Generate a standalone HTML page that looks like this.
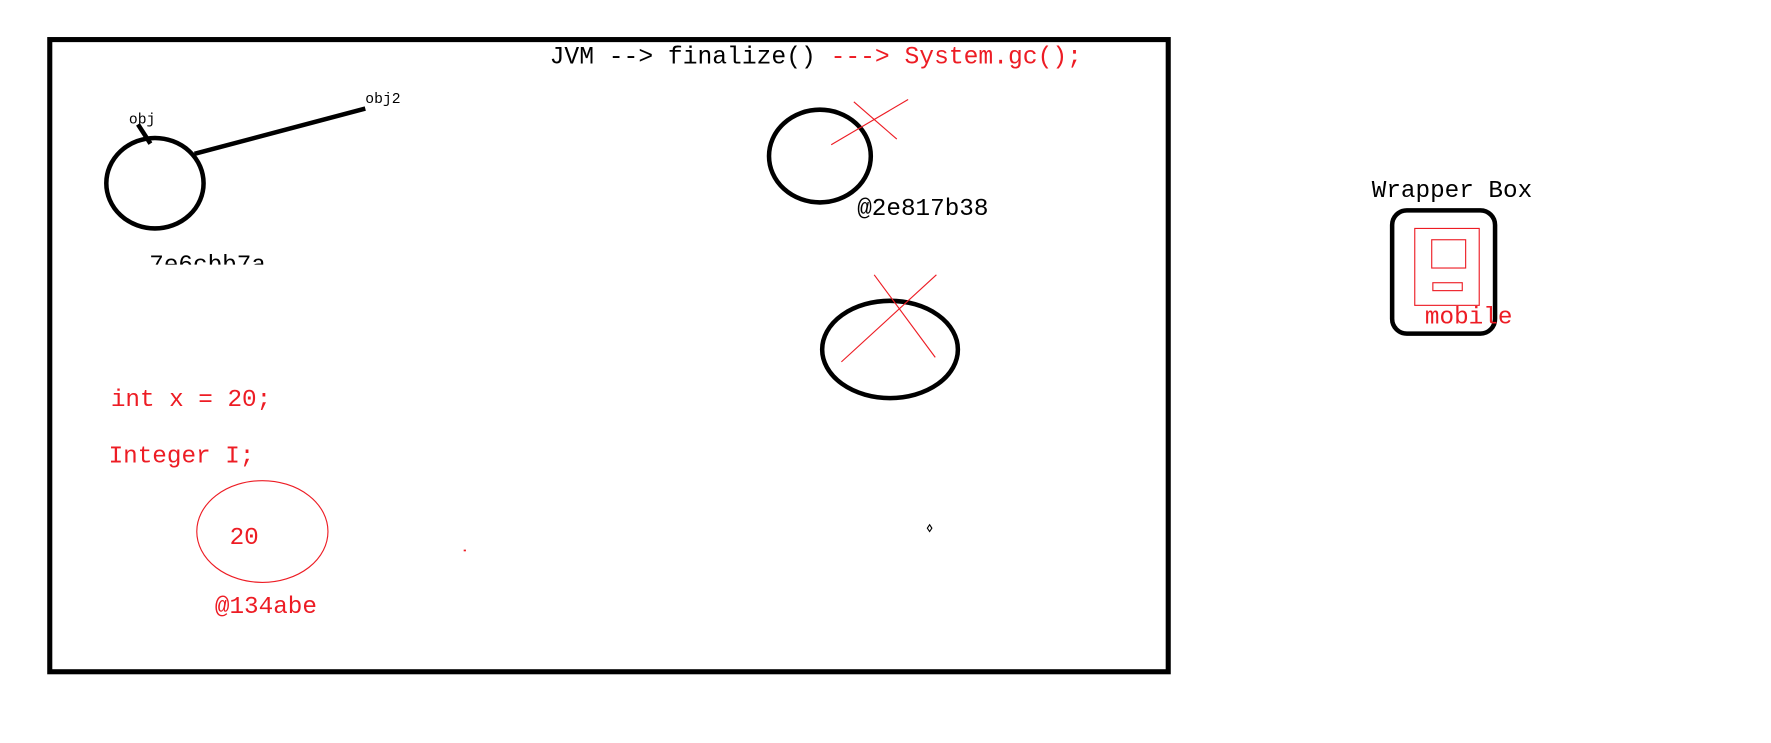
<!DOCTYPE html>
<html><head><meta charset="utf-8"><style>
html,body{margin:0;padding:0;background:#fff;width:1771px;height:743px;overflow:hidden}
text{font-family:"Liberation Mono","DejaVu Sans Mono",monospace}
</style></head><body>
<svg width="1771" height="743" viewBox="0 0 1566 657" xmlns="http://www.w3.org/2000/svg">
<defs><clipPath id="c1"><rect x="0" y="0" width="1560" height="234"/></clipPath></defs>
<rect x="44" y="35" width="989" height="559" fill="none" stroke="#000" stroke-width="4.5"/>
<text x="486" y="56" font-size="21.8" fill="#000">JVM --&gt; finalize() <tspan fill="#ed1c24">---&gt; System.gc();</tspan></text>
<ellipse cx="137" cy="162" rx="43" ry="40" fill="none" stroke="#000" stroke-width="4"/>
<line x1="122" y1="110" x2="133" y2="127" stroke="#000" stroke-width="4"/>
<line x1="172" y1="136" x2="323" y2="96" stroke="#000" stroke-width="4"/>
<text x="114" y="109" font-size="13">obj</text>
<text x="323" y="91" font-size="13">obj2</text>
<text x="132" y="240" font-size="21.5" clip-path="url(#c1)">7e6cbb7a</text>
<ellipse cx="725" cy="138" rx="45" ry="41" fill="none" stroke="#000" stroke-width="4"/>
<line x1="735" y1="128" x2="803" y2="88" stroke="#ed1c24" stroke-width="1"/>
<line x1="755" y1="90" x2="793" y2="123" stroke="#ed1c24" stroke-width="1"/>
<text x="758" y="190" font-size="21.5">@2e817b38</text>
<ellipse cx="787" cy="309" rx="60" ry="43" fill="none" stroke="#000" stroke-width="4"/>
<line x1="744" y1="320" x2="828" y2="243" stroke="#ed1c24" stroke-width="1"/>
<line x1="773" y1="243" x2="827" y2="316" stroke="#ed1c24" stroke-width="1"/>
<text x="98" y="359" font-size="21.5" fill="#ed1c24">int x = 20;</text>
<text x="96" y="409" font-size="21.5" fill="#ed1c24">Integer I;</text>
<ellipse cx="232" cy="470" rx="58" ry="45" fill="none" stroke="#ed1c24" stroke-width="1"/>
<text x="203" y="481" font-size="21.5" fill="#ed1c24">20</text>
<text x="190" y="542" font-size="21.5" fill="#ed1c24">@134abe</text>
<rect x="410" y="486" width="2" height="1.5" fill="#ed1c24"/>
<path d="M822 464 L824 467 L822 470 L820 467 Z" fill="none" stroke="#000" stroke-width="1"/>
<text x="1213" y="174" font-size="21.5">Wrapper Box</text>
<rect x="1231" y="186" width="91" height="109" rx="13" fill="none" stroke="#000" stroke-width="4"/>
<rect x="1251" y="202" width="57" height="68" fill="none" stroke="#ed1c24" stroke-width="1"/>
<rect x="1266" y="212" width="30" height="25" fill="none" stroke="#ed1c24" stroke-width="1"/>
<rect x="1267" y="250" width="26" height="7" fill="none" stroke="#ed1c24" stroke-width="1"/>
<text x="1260" y="286" font-size="21.5" fill="#ed1c24">mobile</text>
</svg>
</body></html>
